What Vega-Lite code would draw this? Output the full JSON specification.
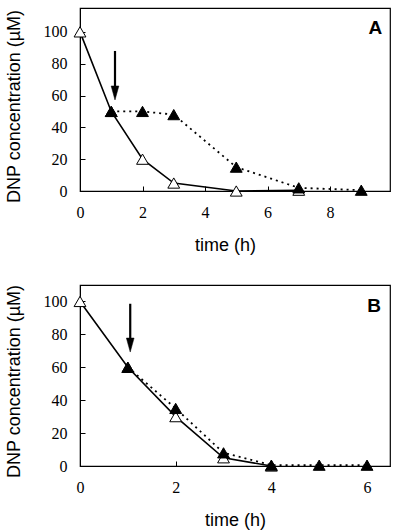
{
  "$schema": "https://vega.github.io/schema/vega-lite/v6.json",
  "autosize": {"type": "pad"},
  "padding": {"left": 4, "top": 7, "right": 13, "bottom": 0},
  "background": "white",
  "bounds": "flush",
  "spacing": 94,
  "config": {
    "view": {"stroke": "black", "strokeWidth": 1.2},
    "axis": {
      "domainColor": "black",
      "tickColor": "black",
      "grid": false,
      "labelFont": "Liberation Serif",
      "labelFontSize": 16,
      "labelColor": "black",
      "labelFlush": false,
      "labelOverlap": false,
      "titleFont": "Liberation Sans",
      "titleFontSize": 18,
      "titleFontWeight": "normal",
      "titleColor": "black",
      "tickSize": -5,
      "tickWidth": 1
    }
  },
  "datasets": {
    "a": [
      {"series": "open", "t": 0, "c": 100},
      {"series": "open", "t": 1, "c": 50},
      {"series": "open", "t": 2, "c": 20},
      {"series": "open", "t": 3, "c": 5},
      {"series": "open", "t": 5, "c": 0},
      {"series": "open", "t": 7, "c": 0.5},
      {"series": "filled", "t": 1, "c": 50},
      {"series": "filled", "t": 2, "c": 50},
      {"series": "filled", "t": 3, "c": 48},
      {"series": "filled", "t": 5, "c": 15},
      {"series": "filled", "t": 7, "c": 2},
      {"series": "filled", "t": 9, "c": 0.5}
    ],
    "b": [
      {"series": "open", "t": 0, "c": 100},
      {"series": "open", "t": 1, "c": 60},
      {"series": "open", "t": 2, "c": 30},
      {"series": "open", "t": 3, "c": 5},
      {"series": "open", "t": 4, "c": 0},
      {"series": "filled", "t": 1, "c": 60},
      {"series": "filled", "t": 2, "c": 35},
      {"series": "filled", "t": 3, "c": 8},
      {"series": "filled", "t": 4, "c": 0.5},
      {"series": "filled", "t": 5, "c": 0.5},
      {"series": "filled", "t": 6, "c": 0.5}
    ],
    "arrowA": [{"t": 1.12, "top": 88, "bot": 63, "head": 61.6}],
    "arrowB": [{"t": 1.05, "top": 98.6, "bot": 75, "head": 73.5}],
    "labelA": [{"t": 9.45, "c": 102.5, "txt": "A"}],
    "labelB": [{"t": 6.15, "c": 97, "txt": "B"}]
  },
  "vconcat": [
    {
      "width": 310,
      "height": 183,
      "encoding": {
        "x": {"field": "t", "type": "quantitative", "scale": {"domain": [0, 9.92], "nice": false},
              "axis": {"values": [0, 2, 4, 6, 8], "title": "time (h)", "labelPadding": 18, "titleY": 45, "titleX": 145}},
        "y": {"field": "c", "type": "quantitative", "scale": {"domain": [0, 115], "nice": false},
              "axis": {"values": [0, 20, 40, 60, 80, 100], "title": "DNP concentration (µM)", "labelPadding": 18, "titleX": -57, "titleY": 98}}
      },
      "layer": [
        {"data": {"name": "a"}, "transform": [{"filter": "datum.series == 'open'"}],
         "mark": {"type": "line", "color": "black", "strokeWidth": 1.6}},
        {"data": {"name": "a"}, "transform": [{"filter": "datum.series == 'filled'"}],
         "mark": {"type": "line", "color": "black", "strokeWidth": 1.8, "strokeDash": [2, 4]}},
        {"data": {"name": "a"}, "transform": [{"filter": "datum.series == 'open'"}],
         "mark": {"type": "point", "shape": "triangle-up", "filled": true, "fill": "white", "stroke": "black", "strokeWidth": 1, "size": 140, "opacity": 1}},
        {"data": {"name": "a"}, "transform": [{"filter": "datum.series == 'filled'"}],
         "mark": {"type": "point", "shape": "triangle-up", "filled": true, "fill": "black", "stroke": "black", "strokeWidth": 1, "size": 140, "opacity": 1}},
        {"data": {"name": "arrowA"}, "mark": {"type": "rule", "color": "black", "strokeWidth": 2.2},
         "encoding": {"y": {"field": "top", "type": "quantitative"}, "y2": {"field": "bot"}}},
        {"data": {"name": "arrowA"}, "mark": {"type": "point", "shape": "M-0.55,-1L0.55,-1L0,1Z", "filled": true, "fill": "black", "stroke": "black", "strokeWidth": 0.5, "size": 196, "opacity": 1},
         "encoding": {"y": {"field": "head", "type": "quantitative"}}},
        {"data": {"name": "labelA"}, "mark": {"type": "text", "font": "Liberation Sans", "fontWeight": "bold", "fontSize": 19, "color": "black"},
         "encoding": {"text": {"field": "txt"}}}
      ]
    },
    {
      "width": 310,
      "height": 181,
      "encoding": {
        "x": {"field": "t", "type": "quantitative", "scale": {"domain": [0, 6.48], "nice": false},
              "axis": {"values": [0, 2, 4, 6], "title": "time (h)", "labelPadding": 18, "titleY": 45}},
        "y": {"field": "c", "type": "quantitative", "scale": {"domain": [0, 110], "nice": false},
              "axis": {"values": [0, 20, 40, 60, 80, 100], "title": "DNP concentration (µM)", "labelPadding": 18, "titleX": -57, "titleY": 96}}
      },
      "layer": [
        {"data": {"name": "b"}, "transform": [{"filter": "datum.series == 'open'"}],
         "mark": {"type": "line", "color": "black", "strokeWidth": 1.6}},
        {"data": {"name": "b"}, "transform": [{"filter": "datum.series == 'filled'"}],
         "mark": {"type": "line", "color": "black", "strokeWidth": 1.8, "strokeDash": [2, 4]}},
        {"data": {"name": "b"}, "transform": [{"filter": "datum.series == 'open'"}],
         "mark": {"type": "point", "shape": "triangle-up", "filled": true, "fill": "white", "stroke": "black", "strokeWidth": 1, "size": 140, "opacity": 1}},
        {"data": {"name": "b"}, "transform": [{"filter": "datum.series == 'filled'"}],
         "mark": {"type": "point", "shape": "triangle-up", "filled": true, "fill": "black", "stroke": "black", "strokeWidth": 1, "size": 140, "opacity": 1}},
        {"data": {"name": "arrowB"}, "mark": {"type": "rule", "color": "black", "strokeWidth": 2.2},
         "encoding": {"y": {"field": "top", "type": "quantitative"}, "y2": {"field": "bot"}}},
        {"data": {"name": "arrowB"}, "mark": {"type": "point", "shape": "M-0.55,-1L0.55,-1L0,1Z", "filled": true, "fill": "black", "stroke": "black", "strokeWidth": 0.5, "size": 196, "opacity": 1},
         "encoding": {"y": {"field": "head", "type": "quantitative"}}},
        {"data": {"name": "labelB"}, "mark": {"type": "text", "font": "Liberation Sans", "fontWeight": "bold", "fontSize": 19, "color": "black"},
         "encoding": {"text": {"field": "txt"}}}
      ]
    }
  ]
}
